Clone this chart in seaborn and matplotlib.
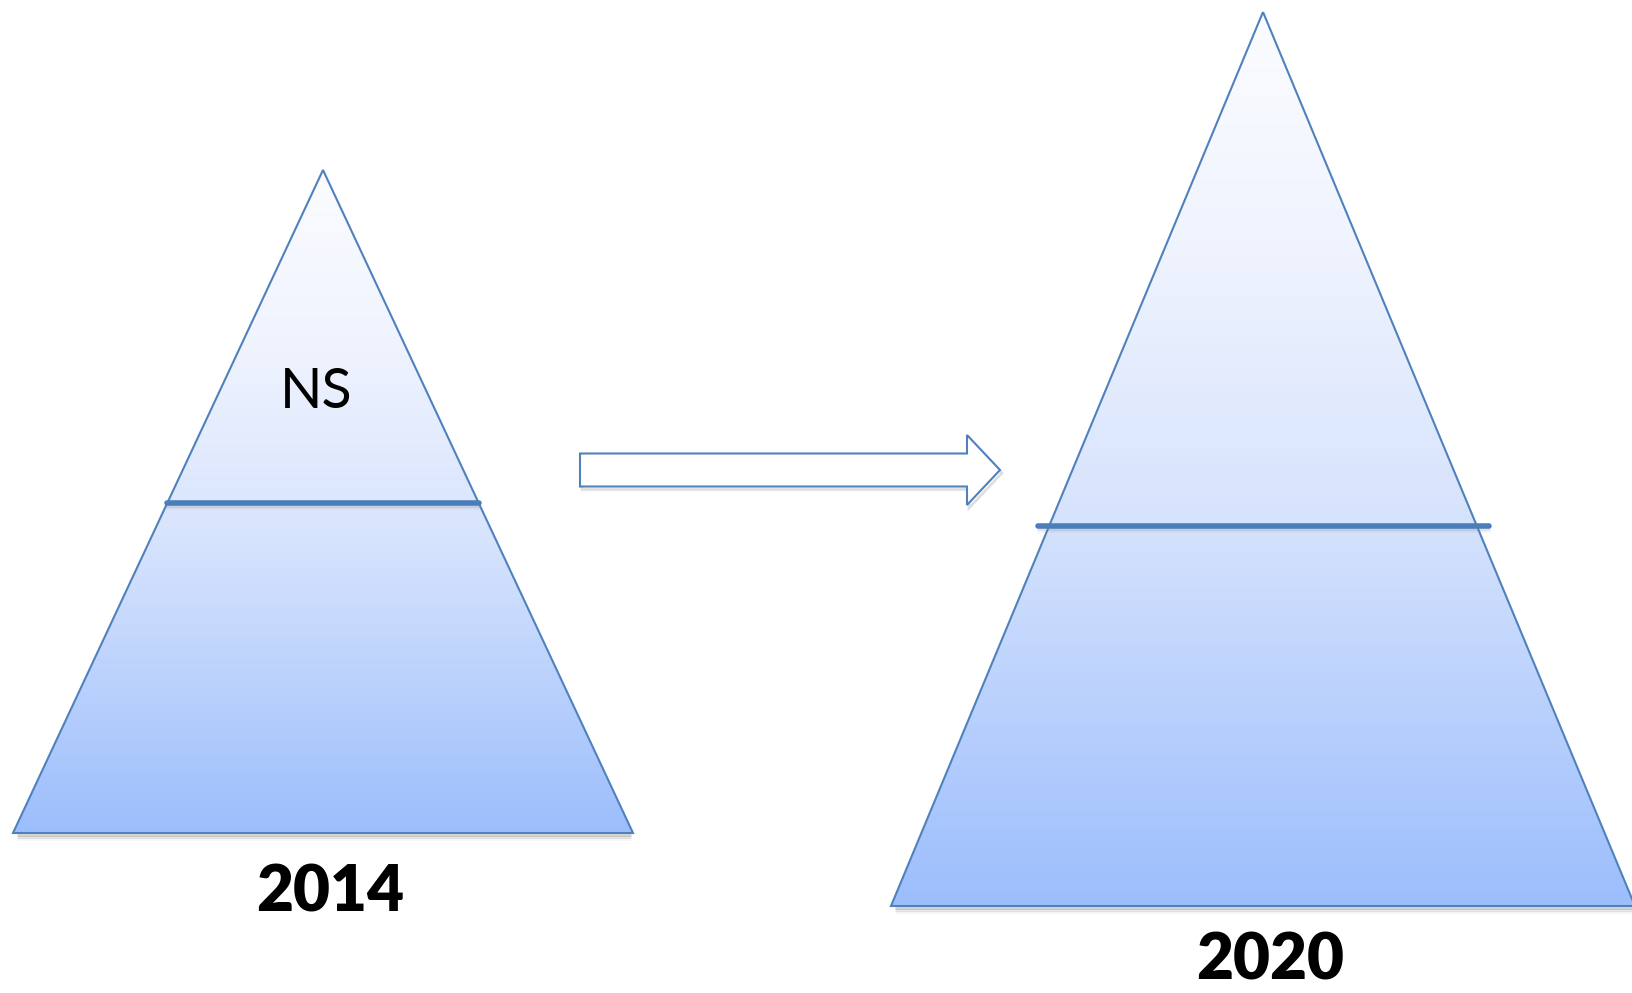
import numpy as np
import pandas as pd
import matplotlib
matplotlib.use("Agg")
import matplotlib.pyplot as plt
import seaborn as sns
from matplotlib.patches import Polygon
from matplotlib.colors import LinearSegmentedColormap

# Pyramid sizes (pixel units of the canvas)
years = ["2014", "2020"]
center_x = [323, 1263]
apex_y = [170, 12]
base_y = [833, 906]
half_width = [310, 372]
divider_y = [503, 526]
divider_x0 = [167, 1038]
divider_x1 = [479, 1489]
label_y = [893, 961]
inner_label = "NS"
inner_label_pos = [316, 392]

# Arrow between the two
arrow_x = [580, 1000]
arrow_y = 470

sns.set_theme(style="white")
plt.rcParams['font.family'] = ['Lato', 'DejaVu Sans']

W, H = 1633, 993
fig = plt.figure(figsize=(W / 100, H / 100), dpi=100)
ax = fig.add_axes([0, 0, 1, 1])

edge = "#4f81bd"
cmap = LinearSegmentedColormap.from_list(
    "pyr", [(0, "#fbfcff"), (0.25, "#f0f4fe"), (0.55, "#d8e4fd"), (1, "#9cbefc")])
grad = np.linspace(0, 1, 256).reshape(-1, 1)

for i, yr in enumerate(years):
    cx, top, bot, hw = center_x[i], apex_y[i], base_y[i], half_width[i]
    pts = [(cx, top), (cx - hw, bot), (cx + hw, bot)]
    # soft shadow under the base
    for k, a in zip([2, 4, 6], [0.35, 0.2, 0.08]):
        ax.plot([cx - hw + 4, cx + hw - 2], [bot + k, bot + k],
                color="gray", alpha=a, lw=2, solid_capstyle="butt", zorder=1)
    img = ax.imshow(grad, cmap=cmap, aspect="auto", origin="upper",
                    extent=(cx - hw, cx + hw, bot, top), zorder=2)
    poly = Polygon(pts, closed=True, facecolor="none", edgecolor=edge,
                   lw=1.5, joinstyle="miter", zorder=3)
    ax.add_patch(poly)
    img.set_clip_path(poly)
    ax.text(cx + 7, label_y[i], yr, ha="center", va="center",
            fontsize=46, fontweight="heavy", color="black", zorder=5)

# divider lines
div = pd.DataFrame({
    "x": divider_x0 + divider_x1,
    "y": divider_y + divider_y,
    "year": years + years,
})
for j in range(len(years)):
    for k, a in zip([3, 5], [0.2, 0.08]):
        ax.plot([divider_x0[j], divider_x1[j]], [divider_y[j] + k] * 2,
                color="gray", alpha=a, lw=2, zorder=3)
sns.lineplot(data=div, x="x", y="y", units="year", estimator=None,
             color="#4a7ebb", lw=4, sort=False, ax=ax, zorder=4)

ax.text(inner_label_pos[0], inner_label_pos[1], inner_label, ha="center",
        va="center", fontsize=40, color="black", zorder=5)

# block arrow
x0, x1 = arrow_x
body_h, head_h, head_l = 16.5, 35, 33
arrow_pts = [(x0, arrow_y - body_h), (x1 - head_l, arrow_y - body_h),
             (x1 - head_l, arrow_y - head_h), (x1, arrow_y),
             (x1 - head_l, arrow_y + head_h), (x1 - head_l, arrow_y + body_h),
             (x0, arrow_y + body_h)]
shadow = Polygon([(x + 2, y + 3) for x, y in arrow_pts], closed=True,
                 facecolor="none", edgecolor="gray", alpha=0.25, lw=2, zorder=2)
ax.add_patch(shadow)
ax.add_patch(Polygon(arrow_pts, closed=True, facecolor="white",
                     edgecolor=edge, lw=1.5, joinstyle="miter", zorder=3))

ax.set_xlim(0, W)
ax.set_ylim(H, 0)
ax.axis("off")

fig.savefig("out.png", dpi=100, facecolor="white")
